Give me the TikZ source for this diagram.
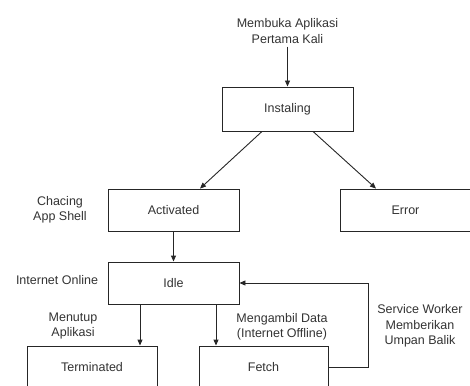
\documentclass[tikz,border=0pt]{standalone}
\usepackage{fontspec}
\setmainfont{Liberation Sans}
\usetikzlibrary{arrows.meta}
\tikzset{
  state/.style={draw=black!85, line width=0.9pt, fill=white, minimum width=131pt, minimum height=42pt, inner sep=0pt},
  lbl/.style={align=center, inner sep=0pt},
  flow/.style={draw=black!85, line width=0.9pt, -{Triangle[length=6pt,width=5pt]}},
}
\begin{document}
\begin{tikzpicture}[x=1pt,y=-1pt,font=\fontsize{12.5}{15.5}\selectfont,text=black!80]
\useasboundingbox (0,0) rectangle (470,385);
\clip (0,0) rectangle (470,385);
% states
\node[state, minimum height=44pt] (inst) at (287.5,109) {Instaling};
\node[state] (act) at (173.5,210) {Activated};
\node[state] (err) at (405.5,210) {Error};
\node[state] (idle) at (173.5,283) {Idle};
\node[state, minimum width=130pt] (term) at (92,367) {Terminated};
\node[state, minimum width=129pt] (fetch) at (263.5,367) {Fetch};
% labels
\node[lbl] (start) at (287.5,31) {Membuka Aplikasi\\Pertama Kali};
\node[lbl] (lcache) at (60,210) {Chacing\\App Shell};
\node[lbl] (lonline) at (57,280) {Internet Online};
\node[lbl] (lclose) at (73,326) {Menutup\\Aplikasi};
\node[lbl] (lfetch) at (282,327) {Mengambil Data\\(Internet Offline)};
\node[lbl] (lsw) at (420,326) {Service Worker\\Memberikan\\Umpan Balik};
% transitions
\draw[flow] ([yshift=-3pt]start.south) -- (inst.north);
\draw[flow] ([xshift=-25.5pt]inst.south) -- ([xshift=26.5pt]act.north);
\draw[flow] ([xshift=25.5pt]inst.south) -- ([xshift=-29.5pt]err.north);
\draw[flow] (act.south) -- (idle.north);
\draw[flow] ([xshift=-33.5pt]idle.south) -- ([xshift=-33.5pt]idle.south |- term.north);
\draw[flow] ([xshift=42.5pt]idle.south) -- ([xshift=42.5pt]idle.south |- fetch.north);
\draw[flow] (fetch.east) -- ++(40,0) |- (idle.east);
\end{tikzpicture}
\end{document}
